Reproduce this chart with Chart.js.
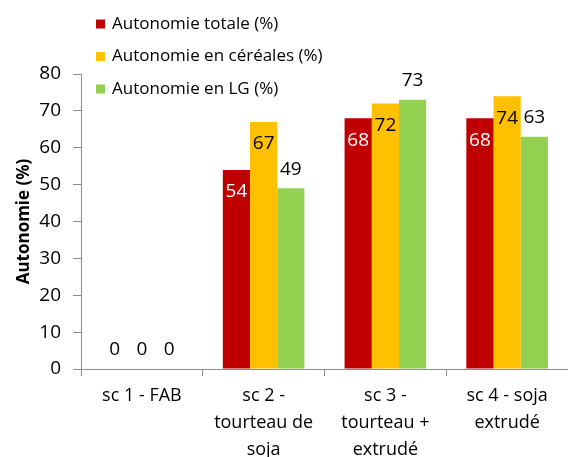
<!DOCTYPE html>
<html>
<head>
<meta charset="utf-8">
<script src="https://cdn.jsdelivr.net/npm/chart.js@4.4.0/dist/chart.umd.min.js"></script>
<style>
    body { margin: 0; background: #fff; }
    #wrap { width: 568px; height: 457px; position: relative; }
</style>
</head>
<body>
<div id="wrap"><canvas id="autonomieChart"></canvas></div>
<script>
let categories = [
    "sc 1 - FAB",
    ["sc 2 -", "tourteau de", "soja"],
    ["sc 3 -", "tourteau +", "extrudé"],
    ["sc 4 - soja", "extrudé"]
];
let seriesNames = ["Autonomie totale (%)", "Autonomie en céréales (%)", "Autonomie en LG (%)"];
let autonomieTotale = [0, 54, 68, 68];
let autonomieCereales = [0, 67, 72, 74];
let autonomieLG = [0, 49, 73, 63];
let yTicks = [0, 10, 20, 30, 40, 50, 60, 70, 80];

let barColors = ["#C00000", "#FFC000", "#92D050"];
let labelColors = ["#ffffff", "#000000", "#000000"];
let labelInside = [true, true, false];
let fontName = "'Open Sans', sans-serif";

// legend drawn by hand, Excel puts it over the plot
let legendPlugin = {
    id: "sideLegend",
    afterDraw: function (chart) {
        let ctx = chart.ctx;
        ctx.save();
        ctx.font = "17px " + fontName;
        ctx.textBaseline = "middle";
        ctx.textAlign = "left";
        chart.data.datasets.forEach(function (ds, i) {
            let y = 24 + i * 32.5;
            ctx.fillStyle = ds.backgroundColor;
            ctx.fillRect(96, y - 4.5, 9, 9);
            ctx.fillStyle = "#000";
            ctx.fillText(ds.label, 112, y);
        });
        ctx.restore();
    }
};

// value labels on the bars
let valuePlugin = {
    id: "barValues",
    afterDatasetsDraw: function (chart) {
        let ctx = chart.ctx;
        ctx.save();
        ctx.font = "19px " + fontName;
        ctx.textAlign = "center";
        ctx.textBaseline = "middle";
        chart.data.datasets.forEach(function (ds, i) {
            let meta = chart.getDatasetMeta(i);
            meta.data.forEach(function (bar, j) {
                let v = ds.data[j];
                if (labelInside[i] && v > 0) {
                    ctx.fillStyle = labelColors[i];
                    ctx.fillText(v, bar.x, bar.y + 22);
                } else {
                    ctx.fillStyle = "#000";
                    ctx.fillText(v, bar.x, bar.y - 19);
                }
            });
        });
        ctx.restore();
    }
};

let values = [autonomieTotale, autonomieCereales, autonomieLG];

new Chart("autonomieChart", {
    type: "bar",
    data: {
        labels: categories,
        datasets: values.map(function (d, i) {
            return {
                label: seriesNames[i],
                data: d,
                backgroundColor: barColors[i],
                categoryPercentage: 0.67,
                barPercentage: 1.0
            };
        })
    },
    options: {
        responsive: true,
        maintainAspectRatio: false,
        animation: false,
        layout: { padding: { top: 74, right: 0, left: 0, bottom: 0 } },
        plugins: {
            legend: { display: false },
            tooltip: { enabled: false }
        },
        scales: {
            x: {
                afterFit: function (scale) { scale.height = 88; },
                border: { color: "#8c8c8c", width: 1 },
                grid: { display: true, offset: true, drawOnChartArea: false, tickLength: 7, color: "#8c8c8c" },
                ticks: {
                    color: "#000",
                    padding: 6,
                    maxRotation: 0,
                    autoSkip: false,
                    font: { family: fontName, size: 18, lineHeight: 1.5 }
                }
            },
            y: {
                min: 0,
                max: 80,
                afterFit: function (scale) { scale.width = 81; },
                afterBuildTicks: function (scale) {
                    scale.ticks = yTicks.map(function (v) { return { value: v }; });
                },
                border: { color: "#8c8c8c", width: 1 },
                grid: { display: true, drawOnChartArea: false, tickLength: 8, color: "#8c8c8c" },
                ticks: {
                    color: "#000",
                    padding: 12,
                    font: { family: fontName, size: 19 }
                },
                title: {
                    display: true,
                    text: "Autonomie (%)",
                    color: "#000",
                    padding: { top: 14, bottom: 0 },
                    font: { family: fontName, size: 17, weight: "bold" }
                }
            }
        }
    },
    plugins: [legendPlugin, valuePlugin]
});
</script>
</body>
</html>
